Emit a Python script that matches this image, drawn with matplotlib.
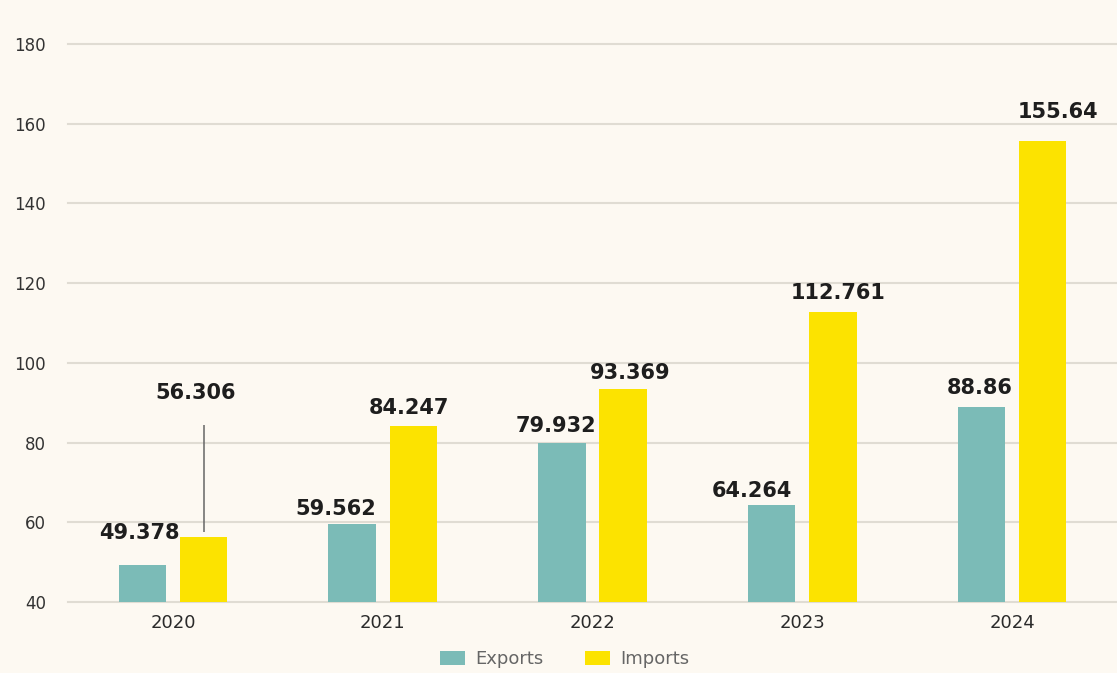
import matplotlib
matplotlib.use("Agg")
import matplotlib.pyplot as plt
import numpy as np

years = ["2020", "2021", "2022", "2023", "2024"]
exports = [49.378, 59.562, 79.932, 64.264, 88.86]
imports = [56.306, 84.247, 93.369, 112.761, 155.64]
export_labels = ["49.378", "59.562", "79.932", "64.264", "88.86"]
import_labels = ["56.306", "84.247", "93.369", "112.761", "155.64"]

# label placement tweaks (points): dx, dy of label centre relative to bar top
exp_dx = [-2, -12, -4, -14, -1]
exp_dy = [23, 11, 12, 10, 14]
imp_dx = [-6, -3, 5, 4, 11]
imp_dy = [104, 13, 12, 14, 21]

BG = "#fdf9f2"
TEAL = "#7bbbb7"
YELLOW = "#fce300"
TXT = "#1e1e1e"

fig = plt.figure(figsize=(11.17, 6.73), dpi=100, facecolor=BG)
ax = fig.add_axes([0.061, 0.1055, 0.939, 0.829], facecolor=BG)

x = np.arange(len(years))
off = 0.146
w = 0.226
b1 = ax.bar(x - off, np.array(exports) - 40, w, bottom=40, color=TEAL, label="Exports", zorder=3)
b2 = ax.bar(x + off, np.array(imports) - 40, w, bottom=40, color=YELLOW, label="Imports", zorder=3)

for i in range(len(years)):
    ax.annotate(export_labels[i], xy=(x[i] - off, exports[i]), xytext=(exp_dx[i], exp_dy[i]),
                textcoords="offset points", ha="center", va="center",
                fontsize=15, fontweight="bold", color=TXT, zorder=4)
    ax.annotate(import_labels[i], xy=(x[i] + off, imports[i]), xytext=(imp_dx[i], imp_dy[i]),
                textcoords="offset points", ha="center", va="center",
                fontsize=15, fontweight="bold", color=TXT, zorder=4)
    if i == 0:
        # leader line for the raised label
        ax.vlines(x[i] + off, imports[i] + 1.3, imports[i] + 28.2, color="#666666", lw=1.1, zorder=4)

ax.set_xlim(-0.5, 4.5)
ax.set_ylim(40, 180)
ax.set_yticks(np.arange(40, 181, 20))
ax.set_xticks(x)
ax.set_xticklabels(years)
ax.grid(axis="y", color="#e0dcd3", lw=1.5, zorder=0)
for gl in ax.get_ygridlines():
    gl.set_clip_on(False)
for s in ax.spines.values():
    s.set_visible(False)
ax.tick_params(axis="y", length=0, pad=16, labelsize=12, labelcolor="#333333")
ax.tick_params(axis="x", length=0, pad=9, labelsize=13, labelcolor="#2a2a2a")

fig.legend(handles=[b1, b2], labels=["Exports", "Imports"], loc="center",
           bbox_to_anchor=(565 / 1117, 1 - 659 / 673), ncol=2, frameon=False,
           fontsize=13, labelcolor="#666666", handlelength=1.35, handleheight=0.8,
           handletextpad=0.6, columnspacing=2.3)

fig.savefig("out.png", dpi=100, facecolor=BG)
